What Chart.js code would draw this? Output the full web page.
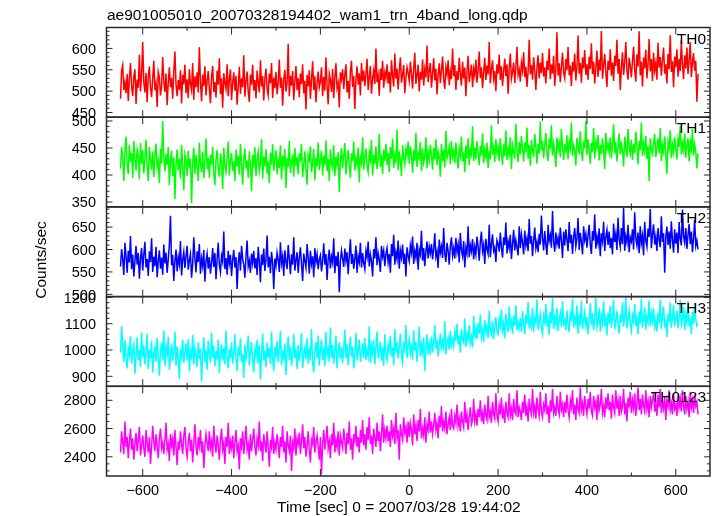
<!DOCTYPE html>
<html><head><meta charset="UTF-8"><title>ae901005010 wam1 trn 4band</title>
<script src="https://cdn.jsdelivr.net/npm/chart.js@4"></script>
<style>
  html, body { margin: 0; padding: 0; background: #fff; }
  #wrap { width: 717px; height: 516px; }
</style></head><body>
<div id="wrap"><canvas id="lc" width="717" height="516"></canvas></div>
<script>
// --- light curve data, 2.5 s bins from -650 s ---
const T_START = -650, T_STEP = 2.5;

const th0 = [
  482,548,561,503,521,495,540,477,530,566,512,489,534,551,470,527,508,585,499,538,
  615,520,497,543,474,532,558,509,486,529,571,502,518,463,545,533,490,512,580,524,
  498,541,467,520,556,509,531,482,547,593,515,488,526,503,549,471,538,516,562,495,
  528,484,551,517,502,566,480,535,509,544,497,603,521,476,539,512,558,490,525,547,
  506,472,533,559,498,521,485,548,515,577,493,530,461,542,519,505,563,488,527,551,
  479,520,544,501,536,468,512,557,494,530,509,584,487,523,546,499,475,539,515,562,
  501,526,483,548,520,497,572,511,535,478,529,553,505,490,541,518,566,484,532,507,
  545,493,519,574,508,532,466,527,550,499,520,611,488,536,513,547,479,522,559,502,
  530,486,541,517,563,495,524,457,538,511,549,482,527,570,503,535,474,518,546,509,
  522,556,488,533,501,579,513,469,540,525,498,552,484,530,565,507,519,462,544,528,
  551,505,538,563,497,524,482,546,571,510,535,458,529,558,515,542,490,566,523,548,
  512,540,576,503,531,559,494,528,548,517,600,521,537,489,553,526,571,508,544,530,
  563,518,545,497,572,536,511,588,529,553,504,547,579,520,538,561,495,531,556,542,
  524,569,541,506,553,590,517,538,562,499,545,527,574,513,551,532,607,521,547,566,
  508,542,577,525,553,492,538,565,519,548,581,527,505,556,539,572,514,546,528,600,
  535,561,503,547,526,578,541,513,569,530,555,488,545,583,521,540,562,509,552,536,
  574,520,549,593,531,556,507,544,578,526,560,539,615,518,551,572,529,547,500,563,
  541,585,526,558,512,547,576,535,563,494,552,588,529,545,567,519,556,604,538,550,
  522,566,548,591,533,557,510,545,620,539,561,527,579,548,503,556,584,530,567,542,
  589,534,556,518,571,549,600,528,562,541,583,512,552,638,536,565,521,557,590,543,
  530,575,549,603,537,560,512,568,546,588,525,557,630,541,566,520,579,553,596,538,
  563,527,581,552,612,540,569,518,556,595,533,574,548,641,529,562,587,545,510,571,
  550,598,536,567,524,583,559,620,541,575,503,556,591,538,566,615,549,527,578,560,
  532,571,604,549,522,586,558,640,537,569,511,579,553,597,530,563,622,546,575,524,
  590,548,566,527,613,555,580,536,572,602,541,563,518,587,552,631,545,570,509,581,
  556,598,534,575,547,619,561,528,584,553,602,540,572,615,533,566,589,548,571,475,
  540
];
const th1 = [
  412,452,433,389,447,471,418,402,456,425,441,395,463,429,408,448,437,392,459,421,
  446,403,431,465,417,389,452,428,410,444,396,437,458,414,426,385,449,421,500,433,
  407,439,418,452,381,426,445,398,433,355,421,447,409,430,393,456,415,372,438,427,
  398,445,413,430,348,424,451,402,437,416,389,460,421,405,443,394,428,468,411,432,
  395,437,419,452,403,381,428,446,412,397,440,423,374,451,418,406,433,462,399,426,
  441,408,425,389,447,416,436,401,458,420,382,431,449,412,427,395,444,418,370,437,
  414,452,398,429,443,407,421,466,393,434,416,448,402,425,385,441,419,457,408,430,
  446,401,427,413,455,392,436,420,448,376,431,415,463,404,422,438,397,450,417,433,
  401,440,425,458,396,419,444,411,382,437,428,453,405,423,448,390,432,416,460,409,
  427,445,399,436,418,464,407,430,389,447,421,412,455,398,434,419,442,368,428,450,
  412,436,459,401,428,446,417,395,440,425,462,408,431,419,451,386,437,424,470,410,
  433,449,416,405,442,428,465,399,437,420,453,411,429,476,415,438,402,447,426,458,
  418,441,405,452,430,467,413,436,422,484,409,444,427,398,455,431,419,448,436,462,
  421,453,438,404,446,426,478,415,440,432,461,407,449,423,435,470,412,443,428,456,
  437,410,451,429,466,418,444,433,397,458,425,447,414,482,431,439,452,420,463,434,
  445,422,460,431,412,449,436,471,425,442,405,455,430,468,418,447,438,490,426,451,
  429,463,441,418,454,436,477,422,447,433,460,413,445,429,492,438,451,424,466,440,
  452,426,468,441,419,457,435,483,428,449,437,470,411,455,443,430,495,446,424,461,
  438,472,449,425,460,442,488,430,456,417,465,447,433,476,452,421,458,440,499,445,
  463,431,455,478,440,426,467,449,492,436,458,442,415,470,447,460,433,485,451,428,
  457,441,474,429,462,450,497,435,455,446,418,469,452,438,481,444,426,464,449,500,
  436,466,448,421,459,443,487,430,462,451,474,427,456,439,468,445,411,478,447,458,
  442,470,431,456,494,440,462,425,451,477,438,458,446,416,471,449,433,485,453,440,
  465,428,457,441,480,452,420,463,446,497,435,459,444,472,430,454,389,468,447,439,
  458,476,433,451,468,440,487,426,455,443,471,437,402,461,449,483,431,456,442,470,
  447,429,466,452,491,438,459,445,477,432,454,468,425,462,448,485,436,457,443,412,
  440
];
const th2 = [
  562,601,578,543,615,585,548,597,571,630,556,589,540,574,608,566,592,535,580,603,
  553,588,617,560,579,541,596,572,625,550,584,563,606,538,575,598,557,582,544,611,
  569,593,548,578,610,675,565,588,530,574,600,551,583,567,619,542,577,595,559,585,
  608,555,576,590,537,568,627,581,549,596,572,612,546,580,563,599,528,574,591,557,
  583,546,570,603,561,592,534,578,615,567,550,586,573,640,556,581,544,597,569,588,
  541,577,599,560,583,512,571,594,553,608,579,566,537,585,620,562,575,548,591,570,
  597,558,581,543,606,574,527,589,565,602,552,578,631,560,584,547,595,571,512,580,
  564,593,577,550,616,569,585,541,598,573,556,610,580,545,589,566,627,553,576,594,
  548,582,605,567,530,591,574,559,612,581,546,597,568,585,538,603,572,589,556,578,
  587,551,575,614,566,590,532,579,600,558,584,571,625,547,586,563,595,505,574,598,
  580,561,602,574,594,545,586,623,568,590,557,579,609,548,585,572,615,560,592,570,
  556,597,583,618,562,589,574,540,601,580,627,565,592,577,550,608,584,598,563,589,
  603,571,590,548,612,585,633,566,594,579,620,557,598,582,611,568,591,540,605,586,
  574,609,593,629,568,597,582,615,555,600,589,642,575,603,563,596,618,580,607,591,
  612,578,601,636,584,596,559,622,593,607,581,648,590,572,615,597,566,608,627,586,
  603,580,626,594,611,571,637,598,585,619,560,604,591,652,583,610,596,623,578,606,
  589,629,606,575,617,640,596,610,568,624,601,590,655,583,612,634,597,605,572,621,
  614,595,638,604,582,627,610,660,591,618,603,633,579,612,644,598,621,605,587,652,
  603,634,615,589,642,609,625,596,668,613,630,585,620,649,603,617,594,635,611,676,
  627,598,641,610,588,655,619,632,604,686,617,595,638,612,626,602,649,620,581,640,
  609,645,622,596,661,614,633,590,628,648,607,624,670,599,637,618,589,652,621,635,
  604,632,655,611,590,641,620,678,602,629,613,647,585,636,619,662,597,628,644,610,
  640,603,626,589,658,617,635,599,671,623,606,648,612,693,597,630,616,655,594,627,
  618,645,600,683,625,609,638,592,652,614,631,587,662,620,606,647,628,690,603,634,
  656,611,629,597,648,622,605,674,617,636,548,627,651,610,640,602,663,621,593,645,
  613,638,592,661,624,609,689,630,615,648,601,633,657,612,640,594,625,667,608,620,
  600
];
const th3 = [
  990,1090,1015,955,1038,968,930,1005,982,1052,948,995,1020,910,975,1048,962,1001,935,1066,
  972,1018,945,990,1062,928,1002,968,1035,915,985,1010,955,1045,978,902,996,1028,960,1075,
  938,1008,982,1050,925,970,1022,958,995,1070,940,1012,968,890,1003,975,1040,952,988,1025,
  960,1042,918,995,972,1058,945,1010,982,935,1030,966,1005,880,978,1048,953,1000,925,1036,
  988,952,1065,970,1015,938,996,963,1040,912,982,1022,958,1007,945,1075,975,930,1003,968,
  1028,948,990,1060,965,920,1010,978,1045,955,985,895,1020,968,1000,1055,940,992,1030,962,
  915,1002,975,1040,950,1018,888,985,1062,960,998,935,1028,972,1008,946,1070,965,920,1012,
  980,1035,955,1000,1072,942,990,968,1025,905,995,1050,962,1012,940,985,1060,970,1003,928,
  1020,958,995,1065,932,984,1010,965,1045,948,1000,975,1080,952,915,998,1030,968,1055,940,
  995,1040,962,1010,938,1068,978,1002,955,1085,970,1020,948,997,1055,930,988,1030,965,1012,
  950,1005,1078,968,1022,942,995,1050,975,1012,930,988,1065,960,1002,1040,955,990,1025,970,
  1045,962,1000,975,1090,950,1015,985,1038,945,1008,1070,968,995,1030,958,1012,940,1060,980,
  960,1022,998,1055,975,1010,942,1080,990,1030,968,1005,1062,982,952,1020,1000,1095,970,1015,
  1040,985,1010,962,1075,998,1030,955,1012,1088,975,1020,990,1048,920,1005,1060,982,1025,995,
  1050,990,1028,1095,1005,1040,975,1020,1062,998,1035,1010,1110,985,1030,1048,1002,1072,1018,1040,
  1015,1068,1035,1100,1020,1055,990,1080,1042,1028,1120,1012,1060,1038,1095,1025,1050,1010,1130,1045,
  1080,1040,1102,1062,1135,1048,1075,1030,1115,1068,1090,1045,1150,1072,1058,1110,1040,1088,1125,1070,
  1060,1120,1090,1155,1075,1102,1045,1138,1095,1068,1165,1088,1110,1062,1130,1092,1170,1075,1105,1082,
  1120,1070,1148,1098,1060,1135,1100,1182,1082,1115,1090,1160,1068,1122,1105,1192,1078,1110,1138,1085,
  1062,1130,1105,1175,1090,1118,1058,1145,1102,1198,1080,1125,1095,1160,1072,1112,1140,1088,1185,1100,
  1115,1075,1150,1100,1068,1138,1110,1195,1085,1122,1098,1170,1062,1128,1105,1188,1080,1115,1145,1092,
  1125,1060,1108,1178,1095,1140,1075,1120,1198,1088,1112,1158,1070,1130,1102,1185,1090,1118,1055,1142,
  1100,1168,1085,1125,1192,1078,1110,1148,1095,1062,1135,1105,1180,1088,1120,1200,1082,1115,1150,1098,
  1072,1130,1108,1175,1092,1122,1060,1145,1100,1195,1085,1118,1162,1078,1128,1105,1188,1090,1140,1110,
  1158,1088,1115,1070,1142,1102,1192,1080,1125,1165,1095,1110,1050,1138,1105,1180,1085,1120,1172,1098,
  1112,1150,1082,1128,1190,1096,1118,1165,1075,1135,1108,1185,1090,1122,1060,1145,1100,1178,1115,1092,
  1100
];
const th0123 = [
  2430,2580,2500,2420,2650,2470,2540,2390,2510,2600,2450,2530,2380,2490,2570,2440,2520,2610,2410,2480,
  2550,2460,2400,2590,2500,2430,2540,2350,2470,2620,2510,2440,2560,2480,2390,2530,2600,2460,2500,2420,
  2520,2640,2450,2490,2370,2560,2480,2530,2410,2590,2470,2340,2510,2450,2580,2490,2420,2550,2610,2460,
  2400,2500,2570,2440,2520,2360,2490,2630,2470,2410,2540,2480,2590,2430,2510,2320,2470,2560,2500,2440,
  2580,2460,2510,2400,2620,2490,2430,2550,2480,2380,2520,2600,2450,2500,2350,2540,2470,2640,2420,2510,
  2460,2550,2390,2500,2590,2440,2480,2310,2530,2470,2580,2420,2510,2620,2450,2490,2380,2560,2440,2520,
  2600,2470,2410,2530,2480,2650,2440,2510,2370,2560,2490,2430,2580,2460,2330,2520,2470,2610,2420,2500,
  2450,2560,2490,2390,2540,2470,2620,2430,2510,2360,2580,2480,2440,2550,2300,2500,2460,2600,2410,2530,
  2490,2570,2420,2510,2630,2460,2540,2400,2480,2580,2450,2360,2520,2490,2610,2430,2500,2550,2470,2380,
  2540,2275,2490,2590,2450,2520,2620,2460,2510,2390,2560,2480,2640,2430,2520,2470,2580,2410,2550,2500,
  2460,2600,2520,2420,2570,2490,2650,2450,2530,2380,2560,2510,2620,2470,2540,2430,2590,2500,2660,2480,
  2560,2450,2610,2520,2680,2490,2550,2420,2600,2530,2470,2640,2510,2580,2440,2560,2700,2500,2590,2530,
  2620,2510,2580,2470,2660,2550,2600,2490,2710,2540,2590,2380,2630,2560,2520,2680,2570,2610,2500,2650,
  2540,2640,2590,2480,2700,2560,2620,2510,2660,2580,2740,2530,2600,2550,2680,2500,2630,2590,2720,2570,
  2650,2560,2620,2710,2590,2640,2530,2690,2610,2760,2580,2650,2600,2720,2560,2630,2680,2590,2740,2620,
  2600,2690,2640,2770,2620,2670,2580,2720,2650,2610,2790,2640,2700,2590,2680,2750,2630,2660,2810,2650,
  2700,2620,2740,2680,2800,2650,2710,2630,2770,2690,2660,2830,2680,2720,2640,2790,2700,2670,2850,2690,
  2650,2760,2700,2820,2670,2730,2640,2790,2710,2680,2850,2690,2740,2660,2810,2720,2700,2870,2680,2750,
  2720,2660,2790,2710,2840,2690,2750,2650,2810,2730,2700,2880,2710,2760,2670,2820,2740,2690,2860,2720,
  2680,2770,2730,2850,2700,2760,2640,2800,2720,2880,2710,2750,2690,2830,2740,2700,2860,2730,2770,2680,
  2790,2710,2840,2730,2680,2800,2750,2870,2700,2770,2660,2820,2740,2710,2890,2730,2780,2690,2830,2750,
  2700,2810,2740,2860,2720,2690,2830,2750,2790,2660,2840,2730,2770,2880,2710,2760,2680,2820,2740,2850,
  2730,2790,2670,2840,2750,2710,2870,2740,2800,2690,2830,2720,2760,2880,2700,2780,2650,2820,2750,2860,
  2710,2800,2740,2850,2690,2770,2890,2730,2810,2700,2840,2760,2720,2870,2740,2790,2680,2830,2750,2800,
  2860,2720,2780,2690,2840,2750,2880,2710,2790,2740,2830,2660,2800,2760,2870,2730,2780,2700,2850,2740,
  2770,2690,2840,2750,2810,2720,2870,2760,2700,2830,2740,2790,2680,2860,2750,2800,2710,2840,2760,2790,
  2700
];

// tick labels
const xTicks = [-600, -400, -200, 0, 200, 400, 600];
const yTicks0 = [450, 500, 550, 600];
const yTicks1 = [350, 400, 450, 500];
const yTicks2 = [500, 550, 600, 650];
const yTicks3 = [900, 1000, 1100, 1200];
const yTicks4 = [2400, 2600, 2800];

const panels = [
  { id: 'y0', name: 'TH0',    vals: th0,    color: '#ff0000', min: 439,  max: 649,  major: 50,  minor: 10, ticks: yTicks0 },
  { id: 'y1', name: 'TH1',    vals: th1,    color: '#00ff00', min: 341,  max: 507,  major: 50,  minor: 10, ticks: yTicks1 },
  { id: 'y2', name: 'TH2',    vals: th2,    color: '#0000ff', min: 495,  max: 695,  major: 50,  minor: 10, ticks: yTicks2 },
  { id: 'y3', name: 'TH3',    vals: th3,    color: '#00ffff', min: 862,  max: 1203, major: 100, minor: 20, ticks: yTicks3 },
  { id: 'y4', name: 'TH0123', vals: th0123, color: '#ff00ff', min: 2264, max: 2899, major: 200, minor: 50, ticks: yTicks4 }
];

const FONT = '"Liberation Sans", Arial, Helvetica, sans-serif';
const minus = v => v < 0 ? '\u2212' + Math.abs(v) : String(v);

// frames, inward ticks and all text (qdp style)
const qdpFrame = {
  id: 'qdpFrame',
  afterDraw(chart) {
    const ctx = chart.ctx, xs = chart.scales.x;
    const L = xs.left, R = xs.right;
    const seg = (a, b, c, d) => { ctx.beginPath(); ctx.moveTo(a, b); ctx.lineTo(c, d); ctx.stroke(); };
    ctx.save();
    ctx.strokeStyle = '#2a2a2a';
    ctx.fillStyle = '#000';
    panels.forEach(p => {
      const ys = chart.scales[p.id], T = ys.top, B = ys.bottom;
      ctx.lineWidth = 1;
      for (let v = -600; v <= 600; v += 100) {
        const x = xs.getPixelForValue(v), len = v % 200 === 0 ? 7 : 3.5;
        seg(x, B, x, B - len); seg(x, T, x, T + len);
      }
      for (let v = Math.ceil(p.min / p.minor) * p.minor; v <= p.max; v += p.minor) {
        const y = ys.getPixelForValue(v), len = v % p.major === 0 ? 6 : 3;
        seg(L, y, L + len, y); seg(R, y, R - len, y);
      }
      ctx.lineWidth = 1.5;
      ctx.strokeRect(L, T, R - L, B - T);

      ctx.font = '14.5px ' + FONT;
      ctx.textAlign = 'right'; ctx.textBaseline = 'alphabetic';
      p.ticks.forEach(v => ctx.fillText(String(v), 96, ys.getPixelForValue(v) + 5.2));

      ctx.font = '15.5px ' + FONT;
      ctx.textAlign = 'right';
      ctx.fillText(p.name, 706, T + 16);
    });

    ctx.font = '14.5px ' + FONT;
    ctx.textAlign = 'center';
    const last = chart.scales[panels[panels.length - 1].id];
    xTicks.forEach(v => ctx.fillText(minus(v), xs.getPixelForValue(v), last.bottom + 19));

    ctx.font = '15.5px ' + FONT;
    ctx.textAlign = 'left';
    ctx.fillText('Time [sec] 0 = 2007/03/28 19:44:02', 277, 512);
    ctx.fillText('ae901005010_20070328194402_wam1_trn_4band_long.qdp', 107, 20);

    ctx.translate(46, 260);
    ctx.rotate(-Math.PI / 2);
    ctx.textAlign = 'center';
    ctx.fillText('Counts/sec', 0, 0);
    ctx.restore();
  }
};

const scales = {
  x: { type: 'linear', min: -681.5, max: 677, display: false }
};
panels.forEach((p, i) => {
  scales[p.id] = {
    type: 'linear', position: 'left', stack: 'lc', stackWeight: 1,
    weight: panels.length - i, min: p.min, max: p.max, display: false
  };
});

new Chart(document.getElementById('lc'), {
  type: 'line',
  data: {
    datasets: panels.map(p => ({
      label: p.name,
      yAxisID: p.id,
      data: p.vals.map((v, i) => ({ x: T_START + i * T_STEP, y: v })),
      borderColor: p.color,
      borderWidth: 1.5,
      pointRadius: 0,
      tension: 0
    }))
  },
  options: {
    responsive: false,
    animation: false,
    layout: { padding: { left: 106.5, right: 7, top: 27.5, bottom: 40 } },
    plugins: { legend: { display: false }, tooltip: { enabled: false } },
    scales
  },
  plugins: [qdpFrame]
});
</script></body></html>
